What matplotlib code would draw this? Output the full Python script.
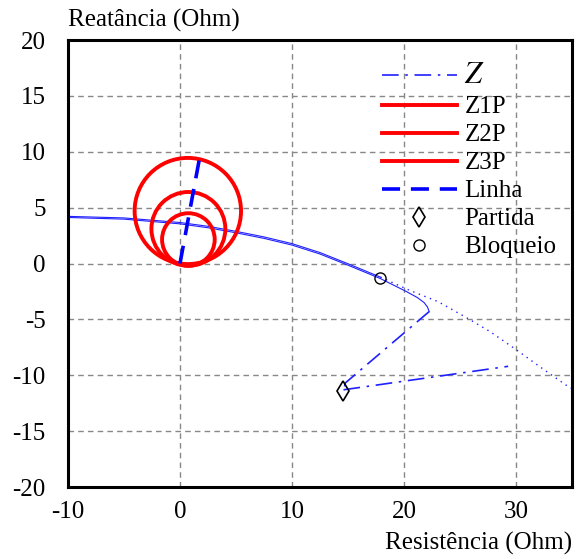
import matplotlib
matplotlib.use('Agg')
import matplotlib.pyplot as plt
from matplotlib.patches import Circle
from matplotlib.lines import Line2D

# Z trajectory, dense part ending in the hook (R, X in Ohm)
traj_r = [-10, -5, 0, 2.5, 5, 7.5, 10, 12.5, 15, 17.9, 19, 20.2, 21.2, 21.8, 22.1, 22.25]
traj_x = [4.12, 3.97, 3.55, 3.2, 2.75, 2.25, 1.65, 0.85, -0.15, -1.35, -1.9, -2.5, -3.05, -3.5, -3.9, -4.3]
# Z trajectory, parallel branch ending in the dotted tail
traj2_r = [-10, -5, 0, 2.5, 5, 7.5, 10, 12.5, 15, 17.9]
traj2_x = [4.22, 4.08, 3.67, 3.33, 2.88, 2.38, 1.78, 0.98, -0.02, -1.22]
tail_r = [17.9, 20.5, 23.06, 25.5, 27.7, 30, 32.5, 34.5, 35.5]
tail_x = [-1.22, -2.4, -3.42, -4.8, -6.1, -7.7, -9.5, -10.9, -11.5]
# sparse (dash-dot) parts leaving the start point
jump1_r = [14.7, 14.75, 22.25]
jump1_x = [-11.0, -10.7, -4.3]
jump2_r = [14.6, 29.3]
jump2_x = [-11.3, -9.2]

# mho zones: centers and radii
zone_names = ['Z1P', 'Z2P', 'Z3P']
zone_cr = [0.75, 0.75, 0.7]
zone_cx = [2.15, 3.1, 4.7]
zone_rad = [2.35, 3.3, 4.75]

# line impedance
line_r = [0, 1.75]
line_x = [0, 9.45]

start_pt = (14.55, -11.4)
block_pt = (17.9, -1.3)

plt.rcParams['font.family'] = ['Liberation Serif', 'DejaVu Serif']
plt.rcParams['mathtext.fontset'] = 'stix'
plt.rcParams['axes.unicode_minus'] = False

fig = plt.figure(figsize=(5.79, 5.59), dpi=100)
ax = fig.add_axes([0.1174, 0.1288, 0.8705, 0.7996])

blue = '#2020ff'
dashdot = (0, (10, 4, 1.5, 4))
ax.plot(traj_r, traj_x, color=blue, lw=0.8)
ax.plot(traj2_r, traj2_x, color=blue, lw=0.8)
ax.plot(tail_r, tail_x, color=blue, lw=1.0, linestyle=(0, (1, 3.3)))
ax.plot(jump1_r, jump1_x, color=blue, lw=1.2, linestyle=dashdot)
ax.plot(jump2_r, jump2_x, color=blue, lw=1.2, linestyle=dashdot)

for cr, cx, rad in zip(zone_cr, zone_cx, zone_rad):
    ax.add_patch(Circle((cr, cx), rad, fill=False, edgecolor='red', lw=2.8, zorder=3))

ax.plot(line_r, line_x, color='blue', lw=2.6, linestyle=(0, (5, 3)), zorder=4)

ax.plot(*start_pt, marker='d', markersize=10, mfc='none', mec='black', mew=1.2, zorder=5)
ax.plot(*block_pt, marker='o', markersize=8, mfc='none', mec='black', mew=1.0, zorder=5)

ax.set_xlim(-10, 35)
ax.set_ylim(-20, 20)
ax.set_xticks([-10, 0, 10, 20, 30])
ax.set_yticks(range(-20, 21, 5))
ax.tick_params(labelsize=18, length=0)
ax.tick_params(axis='x', pad=10)
ax.tick_params(axis='y', pad=16)
ax.grid(True, color='#888888', linestyle=(0, (4, 3)), lw=1.0)
for sp in ax.spines.values():
    sp.set_linewidth(2.2)

ax.text(0.0, 1.017, 'Reatância (Ohm)', transform=ax.transAxes, fontsize=18,
        ha='left', va='bottom')
ax.text(1.0, -0.1, 'Resistência (Ohm)', transform=ax.transAxes, fontsize=18,
        ha='right', va='top')

handles = [
    Line2D([], [], color=blue, lw=1.2, linestyle=dashdot),
    Line2D([], [], color='red', lw=2.8),
    Line2D([], [], color='red', lw=2.8),
    Line2D([], [], color='red', lw=2.8),
    Line2D([], [], color='blue', lw=2.6, linestyle=(0, (5, 3))),
    Line2D([], [], marker='d', markersize=10, mfc='none', mec='black', mew=1.2, linestyle='none'),
    Line2D([], [], marker='o', markersize=8, mfc='none', mec='black', mew=1.0, linestyle='none'),
]
labels = ['$Z$'] + zone_names + ['Linha', 'Partida', 'Bloqueio']
leg = ax.legend(handles, labels, loc='upper left', bbox_to_anchor=(0.623, 0.952),
                frameon=False, fontsize=18, handlelength=3.0, handletextpad=0.3,
                labelspacing=0.22, borderpad=0, borderaxespad=0)
leg.get_texts()[0].set_fontsize(22)

fig.savefig('out.png', dpi=100)
